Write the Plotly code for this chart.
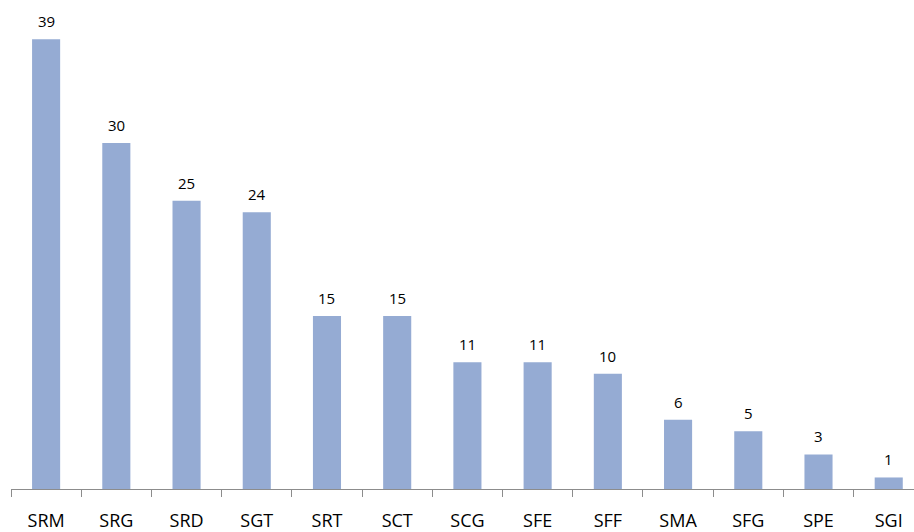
import plotly.graph_objects as go

categories = ["SRM", "SRG", "SRD", "SGT", "SRT", "SCT", "SCG", "SFE", "SFF", "SMA", "SFG", "SPE", "SGI"]
values = [39, 30, 25, 24, 15, 15, 11, 11, 10, 6, 5, 3, 1]

fig = go.Figure(go.Bar(
    x=categories,
    y=values,
    marker=dict(color="#95abd3", line=dict(width=0)),
    cliponaxis=False,
))

for c, v in zip(categories, values):
    fig.add_annotation(
        x=c, y=v, text=str(v), showarrow=False,
        yanchor="bottom", yshift=6,
        font=dict(family="Open Sans", size=15, color="#000000"),
    )

fig.update_layout(
    width=914,
    height=532,
    margin=dict(l=11, r=0, t=0, b=41),
    paper_bgcolor="white",
    plot_bgcolor="white",
    bargap=0.6,
    showlegend=False,
    xaxis=dict(
        type="category",
        range=[-0.5, 12.36],
        showline=True,
        linecolor="#8c8c8c",
        linewidth=1,
        ticks="outside",
        tickson="boundaries",
        ticklen=7,
        tickcolor="#8c8c8c",
        ticklabelstandoff=15,
        tickfont=dict(family="Open Sans", size=18, color="#000000"),
        showgrid=False,
        zeroline=False,
    ),
    yaxis=dict(
        range=[0, 42.4],
        visible=False,
        showgrid=False,
        zeroline=False,
    ),
)

fig.write_html("out.html")
